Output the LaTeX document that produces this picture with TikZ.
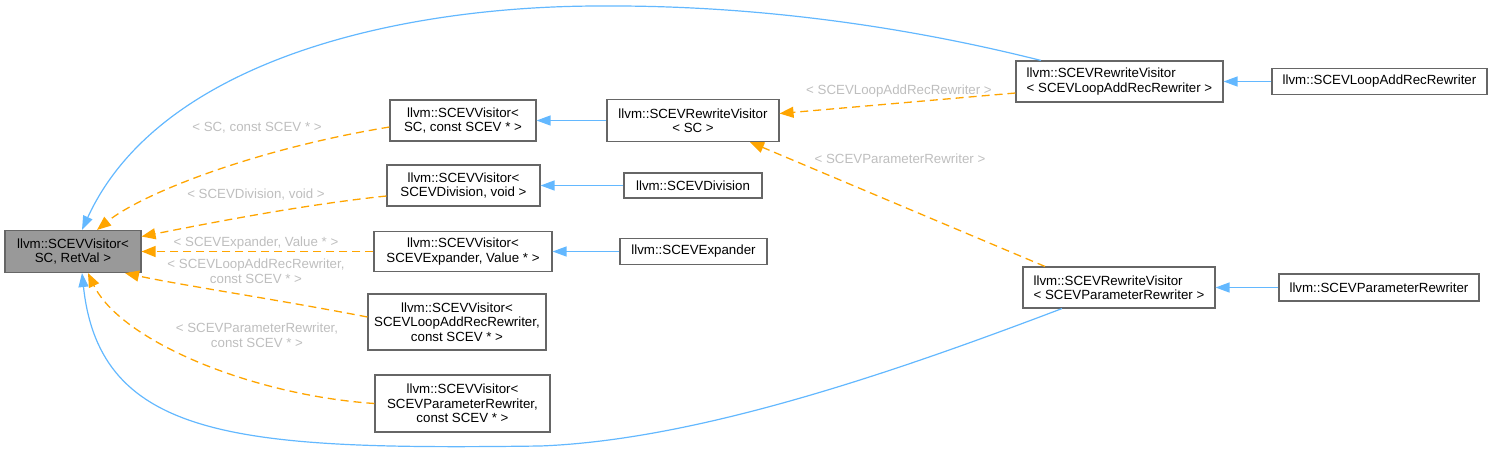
\documentclass[tikz,border=0pt]{standalone}
\usepackage{fontspec}
\setmainfont{Liberation Sans}
\usepackage{xcolor}
\usepackage{tikz}
\usetikzlibrary{arrows.meta}
\definecolor{Frame}{HTML}{666666}
\definecolor{BaseFill}{HTML}{999999}
\definecolor{Inherit}{HTML}{63B8FF}
\definecolor{Templ}{HTML}{FFA500}
\definecolor{LabelGrey}{HTML}{BEBEBE}

\begin{document}
\begin{tikzpicture}[x=1pt,y=-1pt,
    cls/.style={draw=Frame,line width=1.1pt,fill=white,inner sep=0pt,align=center,
                font=\fontsize{13.3}{14.5}\selectfont},
    inh/.style={-{Triangle[length=14pt,width=10pt]},line width=1.2pt,color=Inherit},
    tpl/.style={-{Triangle[length=14pt,width=11pt]},line width=1.3pt,color=Templ,
                dash pattern=on 8pt off 5pt},
    lbl/.style={text=LabelGrey,align=center,inner sep=0pt,
                font=\fontsize{13.3}{14.5}\selectfont}]
      \useasboundingbox (0,0) rectangle (1492,456);
      % classes
      \node[cls,fill=BaseFill,minimum width=136pt,minimum height=42pt] (root) at (73,251.5)
            {llvm::SCEVVisitor<\\ SC, RetVal >};
      \node[cls,minimum width=146pt,minimum height=41pt] (vsc) at (463,120.5)
            {llvm::SCEVVisitor<\\ SC, const SCEV * >};
      \node[cls,minimum width=172pt,minimum height=42pt] (rvsc) at (693,120.5)
            {llvm::SCEVRewriteVisitor\\< SC >};
      \node[cls,minimum width=153pt,minimum height=41pt] (vdiv) at (463.5,185.5)
            {llvm::SCEVVisitor<\\ SCEVDivision, void >};
      \node[cls,minimum width=138pt,minimum height=25pt] (div) at (693,185.5)
            {llvm::SCEVDivision};
      \node[cls,minimum width=178pt,minimum height=40pt] (vexp) at (463,251.5)
            {llvm::SCEVVisitor<\\ SCEVExpander, Value * >};
      \node[cls,minimum width=147pt,minimum height=26pt] (exp) at (693.5,251.5)
            {llvm::SCEVExpander};
      \node[cls,minimum width=178pt,minimum height=56pt] (vlar) at (457,322)
            {llvm::SCEVVisitor<\\ SCEVLoopAddRecRewriter,\\ const SCEV * >};
      \node[cls,minimum width=175pt,minimum height=57pt] (vpar) at (462.5,403.5)
            {llvm::SCEVVisitor<\\ SCEVParameterRewriter,\\ const SCEV * >};
      \node[cls,align=left,minimum width=207pt,minimum height=41pt] (rvlar) at (1119.5,81.5)
            {llvm::SCEVRewriteVisitor\\< SCEVLoopAddRecRewriter >};
      \node[cls,minimum width=215pt,minimum height=26pt] (lar) at (1379.5,81.5)
            {llvm::SCEVLoopAddRecRewriter};
      \node[cls,align=left,minimum width=192pt,minimum height=41pt] (rvpar) at (1119,287.5)
            {llvm::SCEVRewriteVisitor\\< SCEVParameterRewriter >};
      \node[cls,minimum width=200pt,minimum height=27pt] (par) at (1379,287.5)
            {llvm::SCEVParameterRewriter};
      % plain inheritance
      \foreach \a/\b in {rvsc/vsc,div/vdiv,exp/vexp,lar/rvlar,par/rvpar}
        \draw[inh] (\a) -- (\b);
      \draw[inh] (rvlar.165) .. controls (900,25) and (750,5) .. (600,6)
            .. controls (400,6) and (160,60) .. ([xshift=9]root.north);
      \draw[inh] ([xshift=-57]rvpar.south) .. controls (900,370) and (700,440) .. (540,446)
            .. controls (240,450) and (100,440) .. ([xshift=9]root.south);
      % template instances
      \draw[tpl] ([yshift=-6.5]vsc.west) .. controls (250,150) and (140,195) .. ([xshift=24]root.north);
      \draw[tpl] ([yshift=-10.5]vdiv.west) .. controls (300,205) and (200,225) .. ([yshift=15]root.east);
      \draw[tpl] (vexp.west) -- (root.east);
      \draw[tpl] ([yshift=5]vlar.west) .. controls (280,300) and (180,285) .. ([xshift=52]root.south);
      \draw[tpl] (vpar.west) .. controls (250,395) and (120,340) .. ([xshift=15]root.south);
      \draw[tpl] ([yshift=-11.5]rvlar.west) -- ([yshift=7]rvsc.east);
      \draw[tpl] ([xshift=-74]rvpar.north) -- ([xshift=57]rvsc.south);
      % labels
      \node[lbl] (l1) at (257,128) {< SC, const SCEV * >};
      \node[lbl] (l2) at (256,195) {< SCEVDivision, void >};
      \node[lbl] (l3) at (256,243) {< SCEVExpander, Value * >};
      \node[lbl] (l4) at (256,271) {< SCEVLoopAddRecRewriter,\\ const SCEV * >};
      \node[lbl] (l5) at (257,335) {< SCEVParameterRewriter,\\ const SCEV * >};
      \node[lbl] (l6) at (899,91) {< SCEVLoopAddRecRewriter >};
      \node[lbl] (l7) at (900,159) {< SCEVParameterRewriter >};
    \end{tikzpicture}
\end{document}
